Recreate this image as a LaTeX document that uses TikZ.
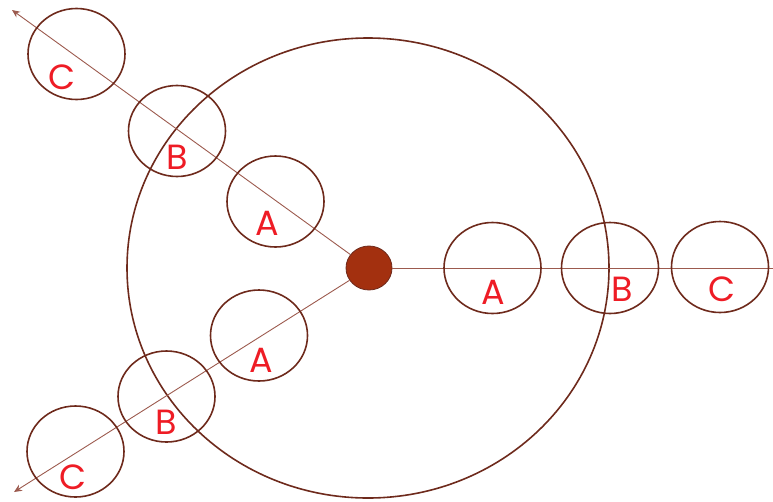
\documentclass[tikz,border=0pt]{standalone}
\usepackage{fontspec}
\setmainfont{Poppins}
\usetikzlibrary{shapes.geometric,arrows.meta}
\definecolor{ringc}{HTML}{6E2A1C}
\definecolor{linec}{HTML}{9C5A4E}
\definecolor{dotc}{HTML}{A3300F}
\definecolor{txtc}{HTML}{EE1C25}
\tikzset{
  orb/.style={ellipse, draw=ringc, line width=1.6pt, minimum width=97pt, minimum height=91pt, inner sep=0pt},
  spoke/.style={draw=linec, line width=0.9pt},
  lbl/.style={text=txtc, font=\fontsize{35}{35}\selectfont, inner sep=0pt},
  hub/.style={ellipse, fill=dotc, draw=ringc, line width=0.8pt, minimum width=46pt, minimum height=44pt, inner sep=0pt},
  tip/.style={-{Stealth[length=8pt,width=7pt]}}
}
\begin{document}
\begin{tikzpicture}[x=1pt,y=-1pt]
\useasboundingbox (0,0) rectangle (773,501);
% big ring
\node[ellipse, draw=ringc, line width=1.6pt, minimum width=482pt, minimum height=460pt, inner sep=0pt] (ring) at (368,268) {};
% endpoints
\coordinate (endR) at (773,268);
\coordinate (endU) at (12,10);
\coordinate (endD) at (14,492);
% hub
\node[hub] (hub) at (369,268) {};
% spokes
\draw[spoke] (hub) -- (endR);
\draw[spoke,tip] (hub) -- (endU);
\draw[spoke,tip] (hub) -- (endD);
% right circles
\node[orb] (rA) at (492.5,268) {};
\node[orb] (rB) at (610,268) {};
\node[orb] (rC) at (720,267) {};
% upper circles
\node[orb] (uA) at (275.5,201.5) {};
\node[orb] (uB) at (177,131) {};
\node[orb] (uC) at (76.5,54) {};
% lower circles
\node[orb] (dA) at (259,335.5) {};
\node[orb] (dB) at (166.5,396.5) {};
\node[orb] (dC) at (75.5,451.5) {};
% labels
\node[lbl] (lrA) at (493,292) {A};
\node[lbl] (lrB) at (622,289) {B};
\node[lbl] (lrC) at (722,289) {C};
\node[lbl] (luA) at (267,223) {A};
\node[lbl] (luB) at (177,157) {B};
\node[lbl] (luC) at (62,77) {C};
\node[lbl] (ldA) at (261,360) {A};
\node[lbl] (ldB) at (166,422) {B};
\node[lbl] (ldC) at (73,477) {C};
\end{tikzpicture}
\end{document}
